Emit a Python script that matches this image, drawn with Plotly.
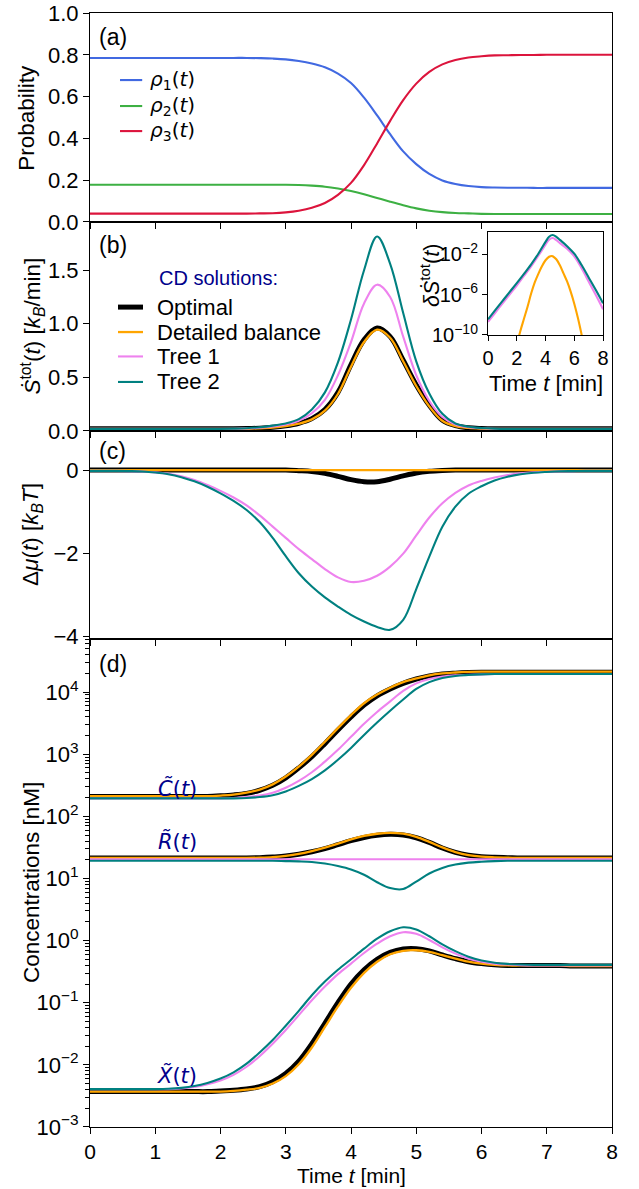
import plotly.graph_objects as go

# ---------------- data ----------------
T = [0.0, 0.2, 0.4, 0.6, 0.8, 1.0, 1.2, 1.4, 1.6, 1.8, 2.0, 2.2, 2.4, 2.6, 2.8, 3.0,
     3.2, 3.4, 3.6, 3.8, 4.0, 4.2, 4.4, 4.6, 4.8, 5.0, 5.2, 5.4, 5.6, 5.8, 6.0, 6.2,
     6.4, 6.6, 6.8, 7.0, 7.2, 7.4, 7.6, 7.8, 8.0]

# (a) probabilities
rho1 = [0.785, 0.785, 0.785, 0.785, 0.785, 0.785, 0.785, 0.785, 0.785, 0.785, 0.785, 0.785, 0.785,
        0.784, 0.782, 0.778, 0.770, 0.758, 0.740, 0.710, 0.665, 0.595, 0.510, 0.420, 0.338, 0.277,
        0.230, 0.199, 0.182, 0.172, 0.167, 0.165, 0.164, 0.164, 0.163, 0.163, 0.163, 0.163, 0.163,
        0.163, 0.163]
rho2 = [0.178, 0.178, 0.178, 0.178, 0.178, 0.178, 0.178, 0.178, 0.178, 0.178, 0.178, 0.178, 0.178,
        0.178, 0.178, 0.178, 0.177, 0.174, 0.169, 0.160, 0.148, 0.133, 0.115, 0.097, 0.080, 0.065,
        0.054, 0.047, 0.043, 0.041, 0.039, 0.038, 0.038, 0.038, 0.038, 0.038, 0.038, 0.038, 0.038,
        0.038, 0.038]
rho3 = [0.040, 0.040, 0.040, 0.040, 0.040, 0.040, 0.040, 0.040, 0.040, 0.040, 0.040, 0.040, 0.040,
        0.041, 0.042, 0.046, 0.054, 0.068, 0.091, 0.130, 0.187, 0.272, 0.376, 0.484, 0.583, 0.662,
        0.718, 0.754, 0.775, 0.787, 0.793, 0.797, 0.798, 0.799, 0.799, 0.800, 0.800, 0.800, 0.800,
        0.800, 0.800]

# (b) entropy production rate [k_B/min]
s_opt = [0.02, 0.02, 0.02, 0.02, 0.02, 0.02, 0.02, 0.02, 0.02, 0.02, 0.02, 0.02, 0.022, 0.026, 0.034,
         0.048, 0.072, 0.115, 0.20, 0.36, 0.62, 0.85, 0.96, 0.88, 0.66, 0.43, 0.24, 0.10, 0.05, 0.03,
         0.023, 0.02, 0.02, 0.02, 0.02, 0.02, 0.02, 0.02, 0.02, 0.02, 0.02]
s_db = [0.02, 0.02, 0.02, 0.02, 0.02, 0.02, 0.02, 0.02, 0.02, 0.02, 0.02, 0.02, 0.021, 0.025, 0.032,
        0.045, 0.068, 0.108, 0.19, 0.345, 0.60, 0.83, 0.945, 0.87, 0.65, 0.42, 0.23, 0.095, 0.045,
        0.028, 0.022, 0.02, 0.02, 0.02, 0.02, 0.02, 0.02, 0.02, 0.02, 0.02, 0.02]
s_tree1 = [0.02, 0.02, 0.02, 0.02, 0.02, 0.02, 0.02, 0.02, 0.02, 0.02, 0.02, 0.021, 0.024, 0.03,
           0.042, 0.06, 0.095, 0.165, 0.29, 0.52, 0.83, 1.19, 1.365, 1.25, 0.88, 0.52, 0.28, 0.13,
           0.06, 0.035, 0.025, 0.021, 0.02, 0.02, 0.02, 0.02, 0.02, 0.02, 0.02, 0.02, 0.02]
s_tree2 = [0.02, 0.02, 0.02, 0.02, 0.02, 0.02, 0.02, 0.02, 0.02, 0.02, 0.02, 0.022, 0.026, 0.035,
           0.05, 0.07, 0.11, 0.20, 0.36, 0.64, 1.04, 1.50, 1.815, 1.56, 1.10, 0.65, 0.35, 0.16,
           0.07, 0.04, 0.028, 0.022, 0.02, 0.02, 0.02, 0.02, 0.02, 0.02, 0.02, 0.02, 0.02]

# inset: log10 of excess entropy production
T_in = [0.0, 0.5, 1.0, 1.5, 2.0, 2.5, 3.0, 3.5, 4.0, 4.25, 4.5, 4.75, 5.0, 5.5, 6.0, 6.5, 7.0, 7.5, 8.0]
ds_tree1_log = [-8.7, -7.8, -6.9, -6.0, -5.1, -4.15, -3.2, -2.15, -1.05, -0.55, -0.40, -0.60, -0.90,
                -1.45, -2.22, -3.37, -4.7, -6.05, -7.45]
ds_tree2_log = [-8.45, -7.55, -6.65, -5.75, -4.87, -3.95, -3.0, -1.95, -0.78, -0.27, -0.10, -0.28,
                -0.58, -1.2, -1.95, -3.05, -4.3, -5.55, -6.85]
T_db = [2.0, 2.25, 2.5, 2.75, 3.0, 3.25, 3.5, 3.75, 4.0, 4.25, 4.43, 4.5, 4.75, 5.0, 5.25, 5.5,
        5.75, 6.0, 6.25, 6.5, 6.75]
ds_db_log = [-11.0, -9.6, -8.4, -7.2, -5.9, -4.8, -3.95, -3.2, -2.6, -2.25, -2.17, -2.2, -2.5, -3.1,
             -3.9, -4.7, -5.7, -6.9, -8.3, -9.9, -11.6]

# (c) chemical potential difference [k_B T]
mu_opt = [0.0, 0.0, 0.0, 0.0, 0.0, 0.0, 0.0, 0.0, 0.0, 0.0, 0.0, 0.0, 0.0, 0.0, 0.0, 0.0, -0.015,
          -0.035, -0.08, -0.15, -0.23, -0.28, -0.28, -0.22, -0.14, -0.07, -0.03, -0.01, 0.0, 0.0,
          0.0, 0.0, 0.0, 0.0, 0.0, 0.0, 0.0, 0.0, 0.0, 0.0, 0.0]
mu_db = [0.0, 0.0, 0.0, 0.0, 0.0, 0.0, 0.0, 0.0, 0.0, 0.0, 0.0, 0.0, 0.0, 0.0, 0.0, 0.0, 0.0, 0.0,
         0.0, 0.0, 0.0, 0.0, 0.0, 0.0, 0.0, 0.0, 0.0, 0.0, 0.0, 0.0, 0.0, 0.0, 0.0, 0.0, 0.0, 0.0,
         0.0, 0.0, 0.0, 0.0, 0.0]
mu_tree1 = [-0.02, -0.02, -0.02, -0.025, -0.035, -0.055, -0.09, -0.15, -0.24, -0.36, -0.50, -0.66,
            -0.85, -1.09, -1.36, -1.63, -1.90, -2.14, -2.38, -2.58, -2.69, -2.66, -2.54, -2.32,
            -2.01, -1.57, -1.14, -0.80, -0.55, -0.37, -0.26, -0.18, -0.12, -0.08, -0.055, -0.04,
            -0.03, -0.025, -0.02, -0.02, -0.02]
mu_tree2 = [-0.02, -0.02, -0.02, -0.025, -0.035, -0.06, -0.10, -0.17, -0.27, -0.40, -0.56, -0.74,
            -0.96, -1.25, -1.63, -2.07, -2.48, -2.80, -3.06, -3.28, -3.48, -3.64, -3.77, -3.84,
            -3.60, -2.86, -2.08, -1.36, -0.88, -0.57, -0.39, -0.25, -0.16, -0.10, -0.065, -0.045,
            -0.03, -0.025, -0.02, -0.02, -0.02]

# (d) concentrations, log10 of value in nM
C_opt_log = [2.32, 2.32, 2.32, 2.32, 2.32, 2.32, 2.32, 2.32, 2.32, 2.32, 2.33, 2.345, 2.37, 2.42,
             2.50, 2.62, 2.78, 2.96, 3.17, 3.39, 3.60, 3.79, 3.94, 4.05, 4.14, 4.21, 4.26, 4.29,
             4.305, 4.315, 4.32, 4.32, 4.32, 4.32, 4.32, 4.32, 4.32, 4.32, 4.32, 4.32, 4.32]
C_db_log = [2.325, 2.325, 2.325, 2.325, 2.325, 2.325, 2.325, 2.325, 2.325, 2.325, 2.335, 2.35, 2.38,
            2.43, 2.515, 2.64, 2.80, 2.99, 3.20, 3.42, 3.63, 3.82, 3.96, 4.07, 4.16, 4.22, 4.27,
            4.30, 4.315, 4.325, 4.33, 4.33, 4.33, 4.33, 4.33, 4.33, 4.33, 4.33, 4.33, 4.33, 4.33]
C_tree1_log = [2.29, 2.29, 2.29, 2.29, 2.29, 2.29, 2.29, 2.29, 2.29, 2.29, 2.29, 2.295, 2.31, 2.335,
               2.38, 2.46, 2.57, 2.71, 2.88, 3.07, 3.28, 3.49, 3.68, 3.85, 4.02, 4.14, 4.21, 4.25,
               4.27, 4.28, 4.285, 4.29, 4.29, 4.29, 4.29, 4.29, 4.29, 4.29, 4.29, 4.29, 4.29]
C_tree2_log = [2.29, 2.29, 2.29, 2.29, 2.29, 2.29, 2.29, 2.29, 2.29, 2.29, 2.29, 2.29, 2.295, 2.31,
               2.34, 2.40, 2.49, 2.60, 2.74, 2.91, 3.10, 3.31, 3.51, 3.70, 3.88, 4.05, 4.16, 4.225,
               4.26, 4.275, 4.285, 4.29, 4.29, 4.29, 4.29, 4.29, 4.29, 4.29, 4.29, 4.29, 4.29]

R_opt_log = [1.33, 1.33, 1.33, 1.33, 1.33, 1.33, 1.33, 1.33, 1.33, 1.33, 1.33, 1.33, 1.33, 1.335,
             1.345, 1.36, 1.39, 1.43, 1.48, 1.545, 1.61, 1.66, 1.695, 1.71, 1.70, 1.655, 1.58, 1.49,
             1.42, 1.375, 1.35, 1.34, 1.335, 1.33, 1.33, 1.33, 1.33, 1.33, 1.33, 1.33, 1.33]
R_db_log = [1.33, 1.33, 1.33, 1.33, 1.33, 1.33, 1.33, 1.33, 1.33, 1.33, 1.33, 1.33, 1.33, 1.335,
            1.345, 1.365, 1.395, 1.44, 1.495, 1.56, 1.63, 1.685, 1.72, 1.735, 1.72, 1.67, 1.59,
            1.50, 1.425, 1.375, 1.35, 1.34, 1.335, 1.33, 1.33, 1.33, 1.33, 1.33, 1.33, 1.33, 1.33]
R_tree1_log = [1.31, 1.31, 1.31, 1.31, 1.31, 1.31, 1.31, 1.31, 1.31, 1.31, 1.31, 1.31, 1.31, 1.31,
               1.31, 1.31, 1.31, 1.31, 1.31, 1.31, 1.31, 1.31, 1.31, 1.31, 1.31, 1.31, 1.31, 1.31,
               1.31, 1.31, 1.31, 1.31, 1.31, 1.31, 1.31, 1.31, 1.31, 1.31, 1.31, 1.31, 1.31]
R_tree2_log = [1.285, 1.285, 1.285, 1.285, 1.285, 1.285, 1.285, 1.285, 1.285, 1.285, 1.285, 1.285,
               1.285, 1.285, 1.285, 1.28, 1.275, 1.265, 1.24, 1.20, 1.145, 1.06, 0.94, 0.845, 0.83,
               0.95, 1.08, 1.17, 1.225, 1.255, 1.27, 1.28, 1.285, 1.285, 1.285, 1.285, 1.285, 1.285,
               1.285, 1.285, 1.285]

X_opt_log = [-2.43, -2.43, -2.43, -2.43, -2.43, -2.43, -2.43, -2.43, -2.43, -2.43, -2.42, -2.41,
             -2.39, -2.35, -2.27, -2.14, -1.94, -1.66, -1.33, -1.00, -0.70, -0.47, -0.30, -0.19,
             -0.135, -0.13, -0.165, -0.23, -0.29, -0.34, -0.37, -0.39, -0.40, -0.40, -0.40, -0.40,
             -0.40, -0.41, -0.41, -0.41, -0.41]
X_db_log = [-2.43, -2.43, -2.43, -2.43, -2.43, -2.43, -2.43, -2.43, -2.43, -2.43, -2.43, -2.42,
            -2.40, -2.37, -2.30, -2.18, -1.99, -1.72, -1.39, -1.06, -0.76, -0.52, -0.34, -0.22,
            -0.165, -0.155, -0.18, -0.235, -0.29, -0.34, -0.37, -0.39, -0.40, -0.40, -0.40, -0.40,
            -0.40, -0.41, -0.41, -0.41, -0.41]
X_tree1_log = [-2.39, -2.39, -2.39, -2.39, -2.39, -2.39, -2.39, -2.38, -2.355, -2.31, -2.25, -2.16,
               -2.03, -1.86, -1.66, -1.44, -1.20, -0.96, -0.74, -0.54, -0.37, -0.20, -0.05, 0.07,
               0.135, 0.11, 0.01, -0.11, -0.21, -0.29, -0.34, -0.37, -0.385, -0.395, -0.40, -0.40,
               -0.40, -0.40, -0.40, -0.40, -0.40]
X_tree2_log = [-2.39, -2.39, -2.39, -2.39, -2.39, -2.39, -2.385, -2.37, -2.34, -2.29, -2.22, -2.12,
               -1.98, -1.80, -1.60, -1.37, -1.13, -0.88, -0.66, -0.47, -0.30, -0.13, 0.03, 0.15,
               0.215, 0.18, 0.07, -0.06, -0.17, -0.26, -0.32, -0.355, -0.375, -0.385, -0.39, -0.39,
               -0.39, -0.39, -0.39, -0.39, -0.39]

x_ticks = [0, 1, 2, 3, 4, 5, 6, 7, 8]
conc_tickvals = [1e-3, 1e-2, 1e-1, 1e0, 1e1, 1e2, 1e3, 1e4]
conc_ticktext = ["10<sup>−3</sup>", "10<sup>−2</sup>", "10<sup>−1</sup>", "10<sup>0</sup>",
                 "10<sup>1</sup>", "10<sup>2</sup>", "10<sup>3</sup>", "10<sup>4</sup>"]
inset_tickvals = [1e-10, 1e-6, 1e-2]
inset_ticktext = ["10<sup>−10</sup>", "10<sup>−6</sup>", "10<sup>−2</sup>"]

# legend entries
legend_a_names = ["<i>ρ</i><sub>1</sub>(<i>t</i>)", "<i>ρ</i><sub>2</sub>(<i>t</i>)",
                  "<i>ρ</i><sub>3</sub>(<i>t</i>)"]
legend_b_names = ["Optimal", "Detailed balance", "Tree 1", "Tree 2"]

# ---------------- style ----------------
FONT = "Liberation Sans, Arial, Helvetica, sans-serif"
MATH = "DejaVu Sans, sans-serif"
BLUE, GREEN, RED = "#4169e1", "#3db043", "#dc143c"
BLACK, ORANGE, PINK, TEAL = "#000000", "#ffa500", "#ee82ee", "#008080"
NAVY = "#00008b"
W_THIN, W_OPT, W_DB = 2.1, 5.0, 2.3
colors_a = [BLUE, GREEN, RED]
colors_b = [BLACK, ORANGE, PINK, TEAL]
widths_b = [W_OPT, W_DB, W_THIN, W_THIN]


def pw(vals):
    return [10 ** v for v in vals]


fig = go.Figure()


def line(x, y, color, width, ax, name=None):
    fig.add_trace(go.Scatter(
        x=x, y=y, mode="lines", name=name,
        line=dict(color=color, width=width, shape="spline", smoothing=1.0),
        xaxis="x" + ax, yaxis="y" + ax, showlegend=False, hoverinfo="skip"))


# (a)
for ys, c, nm in zip([rho1, rho2, rho3], colors_a, legend_a_names):
    line(T, ys, c, W_THIN, "", nm)
# (b)
for ys, c, w, nm in zip([s_opt, s_db, s_tree1, s_tree2], colors_b, widths_b, legend_b_names):
    line(T, ys, c, w, "2", nm)
# inset
line(T_db, pw(ds_db_log), ORANGE, W_THIN, "5")
line(T_in, pw(ds_tree1_log), PINK, W_THIN, "5")
line(T_in, pw(ds_tree2_log), TEAL, W_THIN, "5")
# (c)
for ys, c, w in zip([mu_opt, mu_db, mu_tree1, mu_tree2], colors_b, widths_b):
    line(T, ys, c, w, "3")
# (d)
for cs, rs, xs, c, w in zip([C_opt_log, C_db_log, C_tree1_log, C_tree2_log],
                            [R_opt_log, R_db_log, R_tree1_log, R_tree2_log],
                            [X_opt_log, X_db_log, X_tree1_log, X_tree2_log],
                            colors_b, widths_b):
    for arr in (cs, rs, xs):
        line(T, pw(arr), c, w, "4")

# ---------------- layout ----------------
TICKF = dict(family=FONT, size=22, color="black")
common_ax = dict(showline=True, linecolor="black", linewidth=1.2, mirror=True,
                 ticks="outside", ticklen=6, tickwidth=1.2, tickcolor="black",
                 showgrid=False, zeroline=False, tickfont=TICKF)

dom_a = [0.8124, 1.0]
dom_b = [0.6248, 0.8124]
dom_c = [0.4381, 0.6248]
dom_d = [0.0, 0.4381]

xcommon = dict(common_ax, range=[0, 8], tickvals=x_ticks, domain=[0, 1])
INSF = dict(family=FONT, size=20, color="black")

fig.update_layout(
    width=639, height=1189,
    margin=dict(l=90, r=27, t=13, b=62, pad=0),
    template="none",
    paper_bgcolor="white", plot_bgcolor="white",
    font=dict(family=FONT, size=22, color="black"),
    showlegend=False,
    xaxis=dict(xcommon, anchor="y", showticklabels=False),
    xaxis2=dict(xcommon, anchor="y2", showticklabels=False),
    xaxis3=dict(xcommon, anchor="y3", showticklabels=False),
    xaxis4=dict(xcommon, anchor="y4", showticklabels=True,
                tickfont=dict(family=FONT, size=21, color="black")),
    yaxis=dict(common_ax, domain=dom_a, anchor="x", range=[0, 1.0],
               tickvals=[0, 0.2, 0.4, 0.6, 0.8, 1.0], tickformat=".1f"),
    yaxis2=dict(common_ax, domain=dom_b, anchor="x2", range=[0, 1.95],
                tickvals=[0, 0.5, 1.0, 1.5], tickformat=".1f"),
    yaxis3=dict(common_ax, domain=dom_c, anchor="x3", range=[-4.06, 0.94],
                tickvals=[-4, -2, 0], ticktext=["−4", "−2", "0"]),
    yaxis4=dict(common_ax, domain=dom_d, anchor="x4", type="log", range=[-3, 4.855],
                tickvals=conc_tickvals, ticktext=conc_ticktext,
                minor=dict(ticks="outside", ticklen=3.5, tickwidth=1, tickcolor="black",
                           dtick="D1", showgrid=False)),
    xaxis5=dict(common_ax, domain=[0.7625, 0.9828], anchor="y5", range=[0, 8],
                tickvals=[0, 2, 4, 6, 8], ticklen=5, tickfont=INSF),
    yaxis5=dict(common_ax, domain=[0.7110, 0.8034], anchor="x5", type="log", range=[-10, 0.2],
                tickvals=inset_tickvals, ticktext=inset_ticktext, ticklen=5, tickfont=INSF),
)

ann = []
shapes = []
# panel labels
for txt, yy in [("(a)", 0.9785), ("(b)", 0.7917), ("(c)", 0.6068), ("(d)", 0.4156)]:
    ann.append(dict(text=txt, x=0.0134, y=yy, xref="paper", yref="paper", xanchor="left",
                    yanchor="middle", showarrow=False, font=dict(family=FONT, size=23)))
# y titles
ytitles = [("Probability", -0.1207, 0.906),
           ("<i>Ṡ</i><sup>tot</sup>(<i>t</i>) [<i>k<sub>B</sub></i>/min]", -0.111, 0.7186),
           ("Δ<i>μ</i>(<i>t</i>) [<i>k<sub>B</sub>T</i>]", -0.111, 0.5315),
           ("Concentrations [nM]", -0.113, 0.219)]
for txt, xx, yy in ytitles:
    ann.append(dict(text=txt, x=xx, y=yy, xref="paper", yref="paper", xanchor="center",
                    yanchor="middle", textangle=-90, showarrow=False,
                    font=dict(family=FONT, size=22.5)))
# x title (bottom-anchored so it stays inside the page)
ann.append(dict(text="Time <i>t</i> [min]", x=0.5, y=-0.0545, xref="paper", yref="paper",
                xanchor="center", yanchor="bottom", showarrow=False, borderpad=0,
                font=dict(family=FONT, size=21)))
# inset titles
ann.append(dict(text="Time <i>t</i> [min]", x=0.8736, y=0.667, xref="paper", yref="paper",
                xanchor="center", yanchor="middle", showarrow=False,
                font=dict(family=FONT, size=22)))
ann.append(dict(text="<i>δṠ</i><sup>tot</sup>(<i>t</i>)", x=0.6515, y=0.764, xref="paper",
                yref="paper", xanchor="center", yanchor="middle", textangle=-90, showarrow=False,
                font=dict(family=FONT, size=21.5)))

# legend (a)
leg_a_y = [0.9398, 0.9165, 0.8940]
for nm, c, yy in zip(legend_a_names, colors_a, leg_a_y):
    shapes.append(dict(type="line", xref="paper", yref="paper", x0=0.0575, x1=0.1, y0=yy, y1=yy,
                       line=dict(color=c, width=W_THIN)))
    ann.append(dict(text=nm, x=0.1107, y=yy, xref="paper", yref="paper", xanchor="left",
                    yanchor="middle", showarrow=False, font=dict(family=MATH, size=20)))
# legend (b)
ann.append(dict(text="CD solutions:", x=0.128, y=0.762, xref="paper", yref="paper",
                xanchor="left", yanchor="middle", showarrow=False,
                font=dict(family=FONT, size=20, color=NAVY)))
leg_b_y = [0.7360, 0.7136, 0.6917, 0.6688]
for nm, c, w, yy in zip(legend_b_names, colors_b, widths_b, leg_b_y):
    shapes.append(dict(type="line", xref="paper", yref="paper", x0=0.0536, x1=0.1015, y0=yy,
                       y1=yy, line=dict(color=c, width=w)))
    ann.append(dict(text=nm, x=0.1245, y=yy, xref="paper", yref="paper", xanchor="left",
                    yanchor="middle", showarrow=False, font=dict(family=FONT, size=22)))

# curve labels in (d)
MATHF = dict(family=MATH, size=21, color=NAVY)
for txt, yy in [("<i>C̃</i>(<i>t</i>)", 0.304), ("<i>R̃</i>(<i>t</i>)", 0.256),
                ("<i>X̃</i>(<i>t</i>)", 0.0465)]:
    ann.append(dict(text=txt, x=0.1667, y=yy, xref="paper", yref="paper", xanchor="center",
                    yanchor="middle", showarrow=False, font=MATHF))
fig.update_layout(annotations=ann, shapes=shapes)

fig.write_html("out.html", config={"displayModeBar": False},
               post_script="document.body.style.margin='0px';")
